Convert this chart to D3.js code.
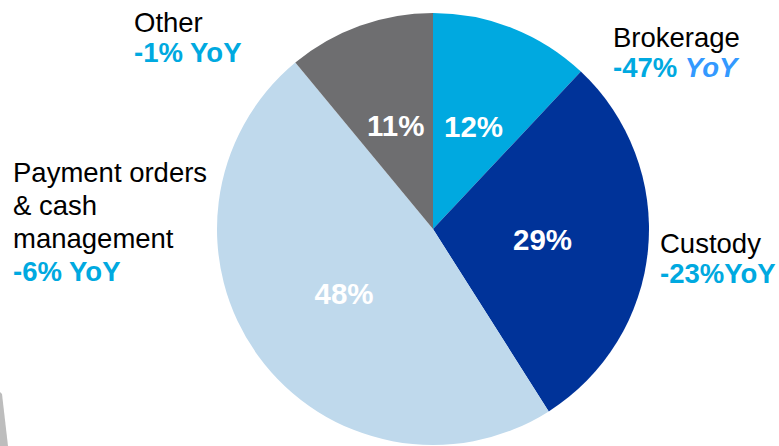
<!DOCTYPE html>
<html>
<head>
<meta charset="utf-8">
<script src="https://cdn.jsdelivr.net/npm/d3@7"></script>
<style>
  body { margin: 0; background: #fff; }
  text { font-family: "Liberation Sans", Arial, sans-serif; }
</style>
</head>
<body>
<div id="container"></div>
<script>
const WIDTH = 779;
const HEIGHT = 446;
const CX = 433;
const CY = 229;
const RADIUS = 216;

const categories = ["Brokerage", "Custody", "Payment orders & cash management", "Other"];
const shares = [12, 29, 48, 11];
const yoyValues = ["-47%", "-23%", "-6%", "-1%"];
const colors = ["#00a9e0", "#003399", "#bfd9ec", "#6e6e70"];

// label blocks: name lines + yoy line
const nameLines = [["Brokerage"], ["Custody"], ["Payment orders", "& cash", "management"], ["Other"]];
const labelPos = [
  { x: 613, y: 47, lh: 30 },
  { x: 660, y: 253, lh: 30 },
  { x: 13, y: 182, lh: 33 },
  { x: 134, y: 32, lh: 30 }
];

const svg = d3
  .select("div#container")
  .append("svg")
  .attr("width", WIDTH)
  .attr("height", HEIGHT);

// grey sliver at bottom-left corner
svg
  .append("path")
  .attr("d", "M0,392 L2,394 L8,446 L0,446 Z")
  .attr("fill", "#bdbdbd");

const pie = d3.pie().sort(null).value((d) => d);
const arcs = pie(shares);

const arc = d3.arc().innerRadius(0).outerRadius(RADIUS);
const labelArc = d3.arc().innerRadius(110).outerRadius(110);

const g = svg.append("g").attr("transform", `translate(${CX}, ${CY})`);

g.selectAll("path.slice")
  .data(arcs)
  .enter()
  .append("path")
  .attr("class", "slice")
  .attr("d", arc)
  .attr("fill", (_, i) => colors[i]);

g.selectAll("text.pct")
  .data(arcs)
  .enter()
  .append("text")
  .attr("class", "pct")
  .attr("x", (d) => labelArc.centroid(d)[0])
  .attr("y", (d) => labelArc.centroid(d)[1])
  .attr("dy", "0.36em")
  .attr("text-anchor", "middle")
  .attr("font-size", 29.5)
  .attr("font-weight", "bold")
  .attr("fill", "#fff")
  .text((d) => d.data + "%");

categories.forEach((cat, i) => {
  const p = labelPos[i];
  const t = svg.append("text").attr("x", p.x).attr("y", p.y).attr("font-size", 27.5);
  nameLines[i].forEach((line, j) => {
    t.append("tspan")
      .attr("x", p.x)
      .attr("dy", j === 0 ? 0 : p.lh)
      .attr("fill", "#000")
      .text(line);
  });
  t.append("tspan")
    .attr("x", p.x)
    .attr("dy", p.lh)
    .attr("font-weight", "bold")
    .attr("fill", "#00a9e0")
    .text(yoyValues[i] + (i === 1 ? "" : " "));
  const suffix = t.append("tspan").attr("font-weight", "bold").text("YoY");
  if (i === 0) {
    suffix.attr("font-style", "italic").attr("fill", "#3399ff");
  } else {
    suffix.attr("fill", "#00a9e0");
  }
});
</script>
</body>
</html>
